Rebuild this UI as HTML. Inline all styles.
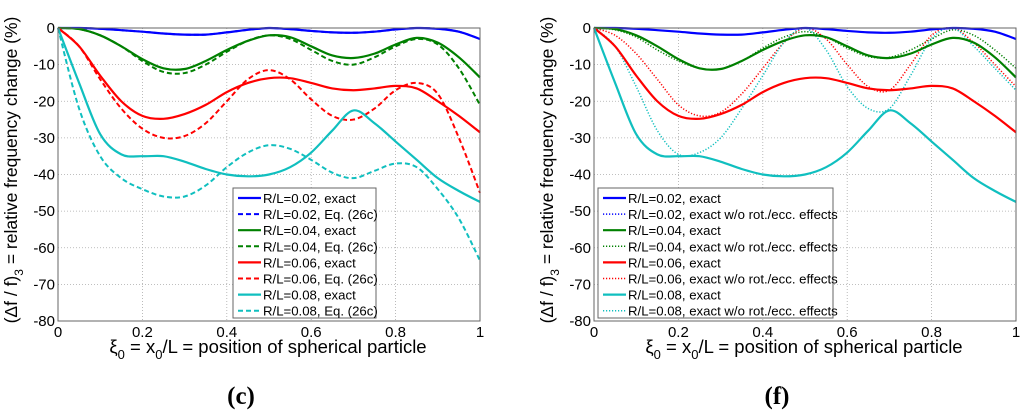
<!DOCTYPE html>
<html><head><meta charset="utf-8"><style>
body{margin:0;background:#fff;width:1024px;height:414px;overflow:hidden}
svg{font-family:"Liberation Sans",sans-serif}
</style></head><body>
<svg id="s" width="1024" height="414"></svg>
<script>
const xs=[0,0.05,0.1,0.15,0.2,0.25,0.3,0.35,0.4,0.45,0.5,0.55,0.6,0.65,0.7,0.75,0.8,0.85,0.9,0.95,1];
const xTicks=[0,0.2,0.4,0.6,0.8,1];
const xTickLabels=["0","0.2","0.4","0.6","0.8","1"];
const yTicks=[0,-10,-20,-30,-40,-50,-60,-70,-80];
const blueExact=[0,0,-0.2,-0.6,-1,-1.5,-1.8,-1.8,-1.2,-0.5,0,-0.3,-0.8,-1.2,-1.3,-1,-0.4,0,-0.2,-1,-3];
const greenExact=[0,-0.3,-2,-5,-8.5,-11,-11.2,-9,-6,-3.5,-2,-2.5,-5,-7.5,-8.2,-7,-4.5,-2.7,-4,-8,-13.5];
const greenEq=[0,-0.3,-2,-5,-9,-12,-12.3,-10,-6.5,-3.5,-2,-3,-6,-9,-10,-8,-5,-3,-4.5,-11,-21];
const redExact=[0,-5,-13,-20,-24,-24.8,-23.5,-21,-17.5,-15,-13.7,-13.7,-15,-16.5,-17,-16.5,-15.8,-16.5,-20,-24,-28.5];
const redEq=[0,-5,-14,-22,-27.5,-30,-29.5,-26,-20,-14,-11.5,-14,-19.5,-24,-25,-22,-17,-15,-18,-30,-45];
const cyanExact=[0,-15,-29,-34.5,-35,-35,-36.5,-38.5,-40,-40.5,-40,-38,-34,-28,-22.5,-26,-31,-36,-41,-44.5,-47.5];
const cyanEq=[0,-22,-35,-41,-44,-46,-46,-43,-38,-34,-32,-33,-36,-39.5,-41,-39,-37,-38,-44,-52,-63.5];
const blueNoRot=[0,0,-0.2,-0.6,-1,-1.5,-1.8,-1.8,-1.2,-0.5,0,-0.3,-0.8,-1.2,-1.3,-1,-0.4,0,-0.2,-1,-3];
const greenNoRot=[0,-0.5,-2.5,-6,-9,-11,-11.2,-9,-5.5,-2.5,-1,-2.5,-5.5,-7.8,-8,-6,-3,-0.5,-2,-6,-11];
const redNoRot=[0,-2,-7,-14,-21,-24,-23,-18,-11,-4,0,-3,-10,-16,-17,-10,-2,0,-4,-10,-16];
const cyanNoRot=[0,-5,-16,-28,-34.5,-34,-30,-22,-13,-4,0,-6,-16,-22,-22,-13,-3,0,-5,-11,-17];

const C={b:"#0000ff",g:"#008000",r:"#ff0000",c:"#10bfbf"};
const S=document.getElementById('s');
const NS="http://www.w3.org/2000/svg";
function el(t,a,p){const e=document.createElementNS(NS,t);for(const k in a)e.setAttribute(k,a[k]);(p||S).appendChild(e);return e;}
function txt(x,y,s,a,p){const e=el('text',Object.assign({x:x,y:y},a),p);e.textContent=s;return e;}

function panel(x0,x1,key,series,legend,lx,lw,label){
  const y0=28,y1=321;
  const sx=v=>x0+v*(x1-x0), sy=v=>y0+(v/-80)*(y1-y0);
  const g=el('g',{});
  
  
  xTicks.forEach((t,i)=>{
    if(i>0&&i<xTicks.length-1){const l=el('line',{x1:sx(t),x2:sx(t),y1:y0,y2:y1,stroke:"#aaa","stroke-dasharray":"1,2","stroke-width":0.8},g);}
    const tl=txt(sx(t),337,xTickLabels[i],{"text-anchor":"middle","font-size":15},g);
    
  });
  yTicks.forEach((t,i)=>{
    if(i>0&&i<yTicks.length-1){const l=el('line',{x1:x0,x2:x1,y1:sy(t),y2:sy(t),stroke:"#aaa","stroke-dasharray":"1,2","stroke-width":0.8},g);}
    const tl=txt(x0-3,sy(t)+5,String(t),{"text-anchor":"end","font-size":15},g);
    
  });
  series.forEach(s=>{
    const p=xs.map((x,i)=>[sx(x),sy(s.v[i])]);
    let d="M"+p[0][0]+","+p[0][1];
    for(let i=0;i<p.length-1;i++){
      const a=p[Math.max(0,i-1)],b=p[i],c=p[i+1],e=p[Math.min(p.length-1,i+2)];
      d+=" C"+(b[0]+(c[0]-a[0])/6)+","+(b[1]+(c[1]-a[1])/6)+" "+(c[0]-(e[0]-b[0])/6)+","+(c[1]-(e[1]-b[1])/6)+" "+c[0]+","+c[1];
    }
    const path=el('path',{d:d,fill:"none",stroke:s.c,"stroke-width":s.w,"stroke-dasharray":s.dash||""},g);
    
    
  });
  el('rect',{x:x0,y:y0,width:x1-x0,height:y1-y0,fill:"none",stroke:"#666","stroke-width":1},g);
  const lg=el('g',{},g);
  
  
  el('rect',{x:lx,y:188,width:lw,height:130,fill:"#fff",stroke:"#666","stroke-width":1},lg);
  legend.forEach((L,i)=>{
    const yy=198+i*16.1;
    el('line',{x1:lx+5,x2:lx+28,y1:yy,y2:yy,stroke:L.c,"stroke-width":L.w,"stroke-dasharray":L.dash||""},lg);
    const t=txt(lx+30,yy+5,L.t,{"font-size":13.2},lg);
    
    
  });
  const yl=el('text',{x:0,y:0,transform:`translate(${x0-41},170) rotate(-90)`,"text-anchor":"middle","font-size":17.5},g);
  yl.innerHTML='(Δf / f)<tspan font-size="12" dy="6">3</tspan><tspan dy="-6"> = relative frequency change (%)</tspan>';
  
  const xl=el('text',{x:(x0+x1)/2-1,y:353,"text-anchor":"middle","font-size":18.5},g);
  xl.innerHTML='ξ<tspan font-size="13" dy="6">0</tspan><tspan dy="-6"> = x</tspan><tspan font-size="13" dy="6">0</tspan><tspan dy="-6">/L = position of spherical particle</tspan>';
  
  const pl=txt((x0+x1)/2-28,404,label,{"text-anchor":"middle","font-size":25,"font-weight":"bold","font-family":"Liberation Serif, serif"},g);
  
}
const dash="5,3", dot="1.2,1.8";
panel(58,480,'c',[
 {n:'blue-exact',v:blueExact,c:C.b,w:2.2},{n:'blue-eq',v:blueExact,c:C.b,w:2,dash:dash},
 {n:'green-exact',v:greenExact,c:C.g,w:2.2},{n:'green-eq',v:greenEq,c:C.g,w:2,dash:dash},
 {n:'red-exact',v:redExact,c:C.r,w:2.2},{n:'red-eq',v:redEq,c:C.r,w:2,dash:dash},
 {n:'cyan-exact',v:cyanExact,c:C.c,w:2.2},{n:'cyan-eq',v:cyanEq,c:C.c,w:2,dash:dash}
],[
 {t:"R/L=0.02, exact",c:C.b,w:2.2},{t:"R/L=0.02, Eq. (26c)",c:C.b,w:2,dash:dash},
 {t:"R/L=0.04, exact",c:C.g,w:2.2},{t:"R/L=0.04, Eq. (26c)",c:C.g,w:2,dash:dash},
 {t:"R/L=0.06, exact",c:C.r,w:2.2},{t:"R/L=0.06, Eq. (26c)",c:C.r,w:2,dash:dash},
 {t:"R/L=0.08, exact",c:C.c,w:2.2},{t:"R/L=0.08, Eq. (26c)",c:C.c,w:2,dash:dash}
],233,143,'(c)');
panel(594,1016,'f',[
 {n:'blue-no-rot',v:blueNoRot,c:C.b,w:1.5,dash:dot},{n:'green-no-rot',v:greenNoRot,c:C.g,w:1.5,dash:dot},
 {n:'red-no-rot',v:redNoRot,c:C.r,w:1.5,dash:dot},{n:'cyan-no-rot',v:cyanNoRot,c:C.c,w:1.5,dash:dot},
 {n:'blue-exact',v:blueExact,c:C.b,w:2.2},{n:'green-exact',v:greenExact,c:C.g,w:2.2},
 {n:'red-exact',v:redExact,c:C.r,w:2.2},{n:'cyan-exact',v:cyanExact,c:C.c,w:2.2}
],[
 {t:"R/L=0.02, exact",c:C.b,w:2.2},{t:"R/L=0.02, exact w/o rot./ecc. effects",c:C.b,w:1.5,dash:dot},
 {t:"R/L=0.04, exact",c:C.g,w:2.2},{t:"R/L=0.04, exact w/o rot./ecc. effects",c:C.g,w:1.5,dash:dot},
 {t:"R/L=0.06, exact",c:C.r,w:2.2},{t:"R/L=0.06, exact w/o rot./ecc. effects",c:C.r,w:1.5,dash:dot},
 {t:"R/L=0.08, exact",c:C.c,w:2.2},{t:"R/L=0.08, exact w/o rot./ecc. effects",c:C.c,w:1.5,dash:dot}
],598,235,'(f)');
</script>
</body></html>
